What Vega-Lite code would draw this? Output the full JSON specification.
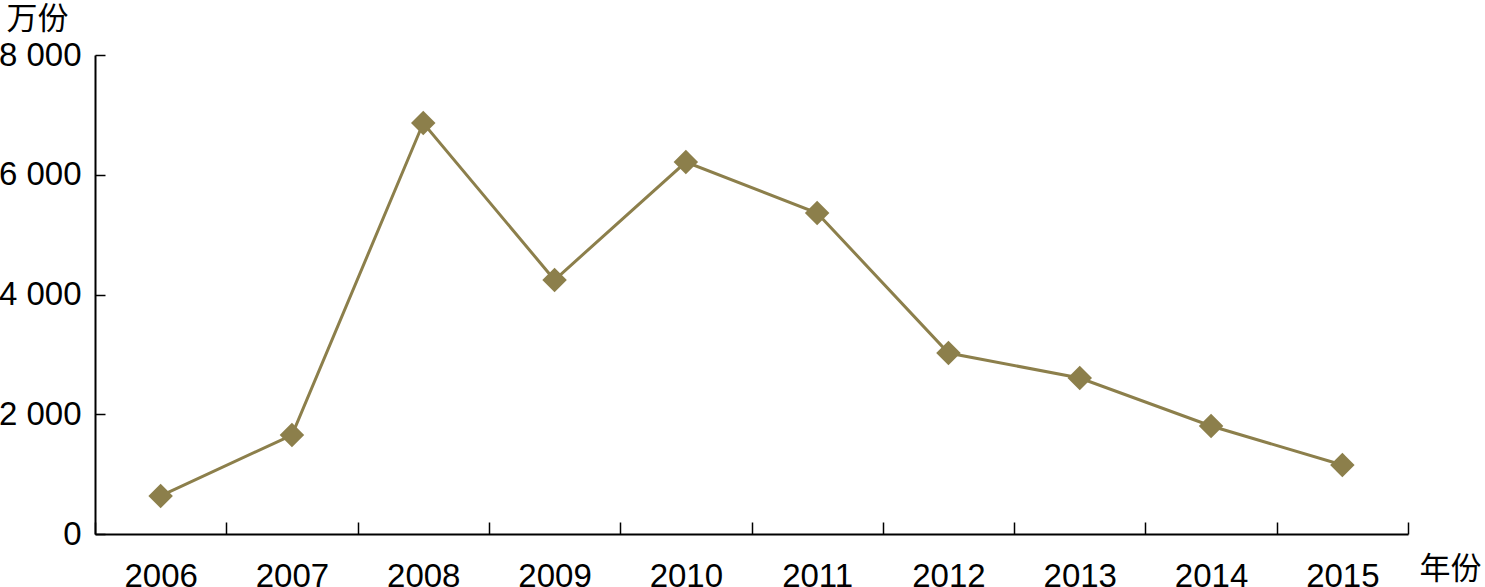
{
  "$schema": "https://vega.github.io/schema/vega-lite/v6.json",
  "width": 1313,
  "height": 479,
  "autosize": {"type": "none"},
  "padding": {"left": 95, "top": 55, "right": 77, "bottom": 53},
  "background": "white",
  "config": {
    "view": {"stroke": null},
    "font": "Liberation Sans"
  },
  "data": {
    "values": [
      {"year": "2006", "value": 635},
      {"year": "2007", "value": 1653},
      {"year": "2008", "value": 6864},
      {"year": "2009", "value": 4242},
      {"year": "2010", "value": 6212},
      {"year": "2011", "value": 5361},
      {"year": "2012", "value": 3023},
      {"year": "2013", "value": 2605},
      {"year": "2014", "value": 1804},
      {"year": "2015", "value": 1152}
    ]
  },
  "encoding": {
    "x": {
      "field": "year",
      "type": "ordinal",
      "scale": {"paddingInner": 0, "paddingOuter": 0},
      "axis": {
        "title": "年份",
        "titleFont": "Noto Sans CJK SC",
        "titleFontSize": 31,
        "titleFontWeight": "normal",
        "titleColor": "black",
        "titleAngle": 0,
        "titleAlign": "left",
        "titleBaseline": "top",
        "titleX": 1324,
        "titleY": 20,
        "labelAngle": 0,
        "labelFontSize": 33,
        "labelColor": "black",
        "labelPadding": 38,
        "tickBand": "extent",
        "tickSize": -12,
        "tickColor": "black",
        "tickWidth": 1.5,
        "domainColor": "black",
        "domainWidth": 2,
        "grid": false
      }
    },
    "y": {
      "field": "value",
      "type": "quantitative",
      "scale": {"domain": [0, 8000]},
      "axis": {
        "title": "万份",
        "titleFont": "Noto Sans CJK SC",
        "titleFontSize": 31,
        "titleFontWeight": "normal",
        "titleColor": "black",
        "titleAngle": 0,
        "titleAlign": "left",
        "titleBaseline": "top",
        "titleX": -89,
        "titleY": -51,
        "values": [0, 2000, 4000, 6000, 8000],
        "labelExpr": "replace(format(datum.value, ','), ',', ' ')",
        "labelFontSize": 33,
        "labelColor": "black",
        "labelPadding": 24,
        "tickSize": -10,
        "tickColor": "black",
        "tickWidth": 1.5,
        "domainColor": "black",
        "domainWidth": 2,
        "grid": false
      }
    }
  },
  "layer": [
    {"mark": {"type": "line", "color": "#8c7f4b", "strokeWidth": 3}},
    {"mark": {"type": "point", "shape": "diamond", "filled": true, "size": 600, "color": "#8c7f4b", "opacity": 1}}
  ]
}
